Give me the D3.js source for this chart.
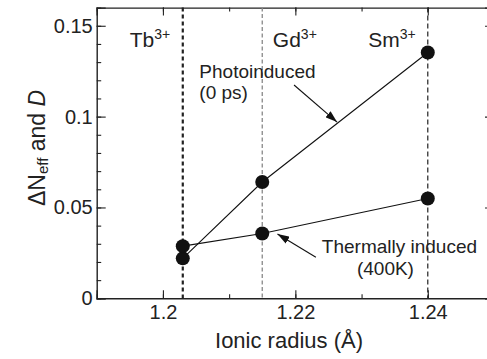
<!DOCTYPE html>
<html>
<head>
<meta charset="utf-8">
<script src="https://cdn.jsdelivr.net/npm/d3@7"></script>
<style>
  body { margin: 0; background: #fff; }
  text { font-family: "Liberation Sans", Arial, sans-serif; fill: #222; }
</style>
</head>
<body>
<div id="viz"></div>
<script>
// chart values
const ions = ["Tb", "Gd", "Sm"];
const ionicRadius = [1.203, 1.215, 1.24];
const photoinduced = [0.022, 0.064, 0.1353];
const thermallyInduced = [0.0287, 0.0357, 0.0549];
const xTicks = [1.2, 1.22, 1.24];
const xTickLabels = ["1.2", "1.22", "1.24"];
const yTicks = [0, 0.05, 0.1, 0.15];
const yTickLabels = ["0", "0.05", "0.1", "0.15"];

// set the dimensions of the graph (right edge is cut off by the window)
const width = 487, height = 359;
const plot = {left: 96.7, right: 494, top: 7.6, bottom: 298.3};

const svg = d3.select("#viz")
  .append("svg")
    .attr("width", width)
    .attr("height", height);

const x = d3.scaleLinear().domain([1.19, 1.25]).range([plot.left, plot.right]);
const y = d3.scaleLinear().domain([0, 0.16]).range([plot.bottom, plot.top]);

const frameColor = "#222";

// minor ticks, all four sides, pointing inward
const minor = (axis, pos, ticks, size) => {
  svg.append("g")
    .attr("transform", pos)
    .call(axis.tickValues(ticks).tickSize(size).tickFormat(""))
    .call(g => g.select(".domain").remove());
};
const xMinor = x.ticks(6), yMinor = y.ticks(16);
minor(d3.axisBottom(x), `translate(0,${plot.bottom})`, xMinor, -4);
minor(d3.axisTop(x), `translate(0,${plot.top})`, xMinor, -4);
minor(d3.axisLeft(y), `translate(${plot.left},0)`, yMinor, -4.5);
minor(d3.axisRight(y), `translate(${plot.right},0)`, yMinor, -4.5);

// major ticks + labels
const xAxis = svg.append("g")
  .attr("transform", `translate(0,${plot.bottom})`)
  .call(d3.axisBottom(x).tickValues(xTicks).tickSize(-8).tickPadding(6)
    .tickFormat((d, i) => xTickLabels[i]));
const yAxis = svg.append("g")
  .attr("transform", `translate(${plot.left},0)`)
  .call(d3.axisLeft(y).tickValues(yTicks).tickSize(-9).tickPadding(4)
    .tickFormat((d, i) => yTickLabels[i]));
svg.append("g")
  .attr("transform", `translate(0,${plot.top})`)
  .call(d3.axisTop(x).tickValues(xTicks).tickSize(-8).tickFormat(""));
svg.append("g")
  .attr("transform", `translate(${plot.right},0)`)
  .call(d3.axisRight(y).tickValues(yTicks).tickSize(-9).tickFormat(""));

svg.selectAll(".tick line").attr("stroke", frameColor).attr("stroke-width", 1.1);
svg.selectAll(".domain").attr("stroke", frameColor).attr("stroke-width", 1.4);
svg.selectAll(".tick text")
  .attr("font-family", "Liberation Sans, Arial, sans-serif")
  .attr("font-size", 20)
  .attr("fill", "#222");
xAxis.selectAll(".tick text").attr("dy", "0.72em");

// vertical dashed reference lines per ion
const guideStyle = [
  {stroke: "#222", width: 2.2, dash: "4,3"},
  {stroke: "#888", width: 1.3, dash: "4,2.5"},
  {stroke: "#222", width: 1.2, dash: "5,3"}
];
svg.selectAll(".guide")
  .data(ionicRadius)
  .join("line")
    .attr("class", "guide")
    .attr("x1", d => x(d)).attr("x2", d => x(d))
    .attr("y1", plot.top).attr("y2", plot.bottom)
    .attr("stroke", (d, i) => guideStyle[i].stroke)
    .attr("stroke-width", (d, i) => guideStyle[i].width)
    .attr("stroke-dasharray", (d, i) => guideStyle[i].dash);

// ion labels with superscript
const ionLabelX = [1.195, 1.2166, 1.231];
ions.forEach((ion, i) => {
  const t = svg.append("text")
    .attr("x", x(ionLabelX[i]))
    .attr("y", 46.5)
    .attr("font-size", 21);
  t.append("tspan").text(ion);
  t.append("tspan").attr("font-size", 14).attr("dy", -8).text("3+");
});

// series lines
const line = d3.line().x(d => x(d[0])).y(d => y(d[1]));
[photoinduced, thermallyInduced].forEach(series => {
  svg.append("path")
    .datum(d3.zip(ionicRadius, series))
    .attr("fill", "none")
    .attr("stroke", "#111")
    .attr("stroke-width", 1.1)
    .attr("d", line);
});

// markers
[photoinduced, thermallyInduced].forEach(series => {
  svg.selectAll(null)
    .data(d3.zip(ionicRadius, series))
    .join("circle")
      .attr("cx", d => x(d[0]))
      .attr("cy", d => y(d[1]))
      .attr("r", 7)
      .attr("fill", "#111");
});

// arrow head
svg.append("defs").append("marker")
    .attr("id", "head")
    .attr("viewBox", "0 0 12 8")
    .attr("refX", 12).attr("refY", 4)
    .attr("markerWidth", 12).attr("markerHeight", 8)
    .attr("markerUnits", "userSpaceOnUse")
    .attr("orient", "auto")
  .append("path")
    .attr("d", "M0,0L12,4L0,8Z")
    .attr("fill", "#111");

const arrow = (x1, y1, x2, y2) => svg.append("line")
  .attr("x1", x(x1)).attr("y1", y(y1))
  .attr("x2", x(x2)).attr("y2", y(y2))
  .attr("stroke", "#111").attr("stroke-width", 1.1)
  .attr("marker-end", "url(#head)");
arrow(1.2198, 0.1174, 1.2263, 0.097);
arrow(1.2231, 0.0226, 1.2173, 0.0354);

// annotations
const note = (txt, xv, yv) => svg.append("text")
  .attr("x", x(xv)).attr("y", y(yv))
  .attr("font-size", 19)
  .text(txt);
note("Photoinduced", 1.2055, 0.1214);
note("(0 ps)", 1.2055, 0.1096);
note("Thermally induced", 1.224, 0.0248);
note("(400K)", 1.2293, 0.0128);

// axis titles
svg.append("text")
  .attr("x", 289).attr("y", 348)
  .attr("text-anchor", "middle")
  .attr("font-size", 22)
  .text("Ionic radius (Å)");

const yTitle = svg.append("text")
  .attr("transform", "translate(45,148) rotate(-90)")
  .attr("text-anchor", "middle")
  .attr("font-size", 23);
yTitle.append("tspan").text("ΔN");
yTitle.append("tspan").attr("font-size", 15).attr("dy", 3).text("eff");
yTitle.append("tspan").attr("dy", -3).text(" and ");
yTitle.append("tspan").attr("font-style", "italic").text("D");
</script>
</body>
</html>
